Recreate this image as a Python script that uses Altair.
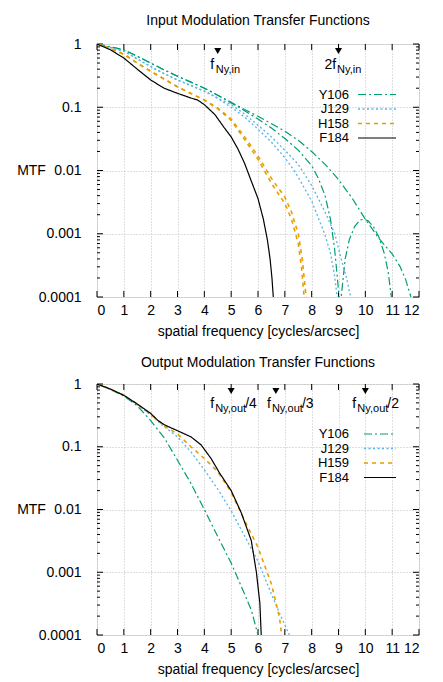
import altair as alt
import pandas as pd

FONT = "Liberation Sans"
FS = 14
LFS = 13

# ---------------- data ----------------
filters_in = ["Y106", "J129", "H158", "F184"]
filters_out = ["Y106", "J129", "H159", "F184"]

# Input MTFs: two curves per filter (a / b)
in_y106_a_x = [0, 0.5, 1, 1.5, 2, 2.5, 3, 3.5, 4, 4.5, 5, 5.5, 6, 6.5, 7, 7.5, 8, 8.5, 9, 9.5, 10, 10.5, 11, 11.3, 11.5, 11.7]
in_y106_a_v = [1, 0.9, 0.81, 0.64, 0.5, 0.39, 0.31, 0.25, 0.2, 0.155, 0.12, 0.092, 0.072, 0.055, 0.042, 0.03, 0.02, 0.0125, 0.0072, 0.0037, 0.0017, 0.00085, 0.00048, 0.0003, 0.00019, 0.0001]
in_y106_b_x = [0, 0.5, 1, 1.5, 2, 2.5, 3, 3.5, 4, 4.5, 5, 5.5, 6, 6.5, 7, 7.5, 8, 8.25, 8.5, 8.7, 8.85, 8.95, 9.02, 9.06, 9.1, 9.25, 9.4, 9.6, 9.8, 9.95, 10.1, 10.3, 10.5, 10.7, 10.85, 10.97]
in_y106_b_v = [1, 0.9, 0.81, 0.64, 0.5, 0.39, 0.31, 0.25, 0.2, 0.155, 0.117, 0.088, 0.065, 0.047, 0.032, 0.021, 0.012, 0.0075, 0.004, 0.0017, 0.0006, 0.00022, 0.0001, 0.00002, 0.0001, 0.0004, 0.0008, 0.0013, 0.00165, 0.0017, 0.0016, 0.0013, 0.0009, 0.0005, 0.00025, 0.0001]

in_j129_a_x = [0, 0.5, 1, 1.5, 2, 2.5, 3, 3.5, 4, 4.5, 5, 5.5, 6, 6.5, 7, 7.5, 8, 8.5, 8.86, 9.1, 9.3, 9.45]
in_j129_a_v = [1, 0.88, 0.77, 0.58, 0.44, 0.34, 0.27, 0.22, 0.18, 0.14, 0.11, 0.078, 0.052, 0.034, 0.021, 0.0125, 0.0058, 0.0022, 0.001, 0.0004, 0.0002, 0.0001]
in_j129_b_x = [0, 0.5, 1, 1.5, 2, 2.5, 3, 3.5, 4, 4.5, 5, 5.5, 6, 6.5, 7, 7.35, 7.5, 8, 8.48, 8.7, 8.85, 8.95]
in_j129_b_v = [1, 0.88, 0.77, 0.58, 0.44, 0.34, 0.27, 0.22, 0.18, 0.138, 0.1, 0.07, 0.045, 0.028, 0.016, 0.01, 0.0078, 0.0033, 0.001, 0.0005, 0.00022, 0.0001]

in_h158_a_x = [0, 0.5, 1, 1.5, 2, 2.5, 3, 3.5, 4, 4.5, 5, 5.5, 6, 6.5, 7, 7.25, 7.5, 7.65, 7.75, 7.8]
in_h158_a_v = [1, 0.85, 0.69, 0.5, 0.37, 0.28, 0.21, 0.165, 0.13, 0.097, 0.065, 0.034, 0.017, 0.0075, 0.0038, 0.0022, 0.001, 0.0004, 0.00015, 0.0001]
in_h158_b_x = [0, 0.5, 1, 1.5, 2, 2.5, 3, 3.5, 4, 4.5, 5, 5.5, 6, 6.5, 7, 7.25, 7.5, 7.62, 7.72]
in_h158_b_v = [1, 0.85, 0.69, 0.5, 0.37, 0.28, 0.21, 0.165, 0.13, 0.095, 0.062, 0.031, 0.015, 0.0063, 0.003, 0.0017, 0.0007, 0.0003, 0.0001]

in_f184_x = [0, 0.5, 1, 1.5, 2, 2.5, 3, 3.5, 3.75, 4, 4.4, 4.75, 5, 5.25, 5.5, 5.75, 6, 6.2, 6.35, 6.45, 6.52, 6.57]
in_f184_v = [1, 0.81, 0.6, 0.4, 0.27, 0.2, 0.166, 0.14, 0.13, 0.11, 0.076, 0.047, 0.034, 0.022, 0.013, 0.0068, 0.0036, 0.0017, 0.0008, 0.0004, 0.0002, 0.0001]

# Output MTFs: one curve per filter
out_y106_x = [0, 0.5, 1, 1.5, 2, 2.5, 3, 3.5, 4, 4.5, 5, 5.5, 5.75, 6.0]
out_y106_v = [1, 0.82, 0.64, 0.45, 0.26, 0.14, 0.061, 0.026, 0.01, 0.0037, 0.0014, 0.00045, 0.00025, 0.0001]
out_j129_x = [0, 0.5, 1, 1.5, 2, 2.5, 3, 3.5, 4, 4.57, 5, 5.5, 6, 6.5, 6.85, 7.17]
out_j129_v = [1, 0.83, 0.66, 0.47, 0.32, 0.21, 0.144, 0.083, 0.043, 0.019, 0.0095, 0.0038, 0.0015, 0.00045, 0.0002, 0.0001]
out_h159_x = [0, 0.5, 1, 1.5, 2, 2.5, 3, 3.5, 4, 4.5, 5, 5.5, 6, 6.5, 6.8, 6.88]
out_h159_v = [1, 0.83, 0.66, 0.48, 0.33, 0.215, 0.16, 0.1, 0.065, 0.04, 0.019, 0.0067, 0.0025, 0.00065, 0.00019, 0.0001]
out_f184_x = [0, 0.5, 1, 1.5, 2, 2.26, 2.5, 3, 3.5, 3.88, 4.25, 4.57, 5, 5.37, 5.75, 5.94, 6.07, 6.12]
out_f184_v = [1, 0.83, 0.66, 0.48, 0.34, 0.265, 0.225, 0.18, 0.144, 0.107, 0.065, 0.038, 0.02, 0.009, 0.0032, 0.001, 0.00032, 0.0001]

# Nyquist markers
nyq_in_x = [4.5, 9.0]
nyq_in_main = ["f", "2f"]
nyq_in_sub = ["Ny,in", "Ny,in"]
nyq_out_x = [5.0, 20 / 3, 10.0]
nyq_out_sub = ["Ny,out", "Ny,out", "Ny,out"]
nyq_out_tail = ["/4", "/3", "/2"]

x_ticks = list(range(13))
y_ticks = [0.0001, 0.001, 0.01, 0.1, 1]
y_minor = [k * 10 ** e for e in range(-4, 0) for k in range(2, 10)]

# ---------------- styles ----------------
W = 322
H_TOP = 253
H_BOT = 251
STYLE = {
    "Y106": dict(color="#009e73", strokeDash=[8, 3, 2, 3], strokeWidth=1.2),
    "J129": dict(color="#56b4e9", strokeDash=[2, 2.5], strokeWidth=1.3),
    "H158": dict(color="#e69f00", strokeDash=[4, 4], strokeWidth=1.6),
    "H159": dict(color="#e69f00", strokeDash=[4, 4], strokeWidth=1.6),
    "F184": dict(color="#000000", strokeDash=[1, 0], strokeWidth=1.2),
}


def frame(curves):
    rows = []
    for filt, cid, xs, vs in curves:
        for xv, vv in zip(xs, vs):
            rows.append({"filter": filt, "curve": cid, "x": xv, "mtf": vv})
    return pd.DataFrame(rows)


df_in = frame([
    ("Y106", "Y106a", in_y106_a_x, in_y106_a_v),
    ("Y106", "Y106b", in_y106_b_x, in_y106_b_v),
    ("J129", "J129a", in_j129_a_x, in_j129_a_v),
    ("J129", "J129b", in_j129_b_x, in_j129_b_v),
    ("H158", "H158a", in_h158_a_x, in_h158_a_v),
    ("H158", "H158b", in_h158_b_x, in_h158_b_v),
    ("F184", "F184", in_f184_x, in_f184_v),
])
df_out = frame([
    ("Y106", "Y106", out_y106_x, out_y106_v),
    ("J129", "J129", out_j129_x, out_j129_v),
    ("H159", "H159", out_h159_x, out_h159_v),
    ("F184", "F184", out_f184_x, out_f184_v),
])

x_scale = alt.Scale(domain=[0, 12], nice=False, zero=False)
y_scale = alt.Scale(type="log", domain=[0.0001, 1], nice=False)


def xenc(field="x"):
    return alt.X(f"{field}:Q", scale=x_scale, axis=alt.Axis(
        values=x_ticks, title="spatial frequency [cycles/arcsec]", grid=True,
        gridDash=[1, 2], gridColor="#bdbdbd", ticks=False, domain=False,
        labelFontSize=FS, titleFontSize=FS, labelFont=FONT, titleFont=FONT,
        titleFontWeight="normal", labelColor="black", titleColor="black",
        labelPadding=6, titlePadding=7))


def yenc(h, field="mtf"):
    return alt.Y(f"{field}:Q", scale=y_scale, axis=alt.Axis(
        values=y_ticks, format="~g", title="MTF", grid=True,
        gridDash=[1, 2], gridColor="#bdbdbd", ticks=False, domain=False,
        labelFontSize=FS, titleFontSize=FS, labelFont=FONT, titleFont=FONT,
        titleFontWeight="normal", labelColor="black", titleColor="black",
        labelPadding=16, titleAngle=0, titleX=-66, titleY=h / 2,
        titleAlign="center", titleBaseline="middle"))


def panel(df, filters, h, title, legend_rows, legend_line_x, annotations, toff):
    layers = []
    # inward tick marks (gnuplot-like frame ticks)
    ymaj = pd.DataFrame({"v": y_ticks})
    ymin = pd.DataFrame({"v": y_minor})
    xmaj = pd.DataFrame({"t": x_ticks})
    for data, length in ((ymaj, 6), (ymin, 3)):
        layers.append(alt.Chart(data).mark_rule(color="black", strokeWidth=1).encode(
            y=yenc(h, "v"), x=alt.value(0), x2=alt.value(length)))
        layers.append(alt.Chart(data).mark_rule(color="black", strokeWidth=1).encode(
            y=yenc(h, "v"), x=alt.value(W - length), x2=alt.value(W)))
    layers.append(alt.Chart(xmaj).mark_rule(color="black", strokeWidth=1).encode(
        x=xenc("t"), y=alt.value(h - 6), y2=alt.value(h)))
    layers.append(alt.Chart(xmaj).mark_rule(color="black", strokeWidth=1).encode(
        x=xenc("t"), y=alt.value(0), y2=alt.value(6)))

    # curves
    for f in filters:
        st = STYLE[f]
        layers.append(alt.Chart(df[df["filter"] == f]).mark_line(
            clip=True, color=st["color"], strokeDash=st["strokeDash"],
            strokeWidth=st["strokeWidth"]).encode(
            x=xenc(), y=yenc(h), detail="curve:N"))

    # legend (label on the left, line sample on the right)
    for i, f in enumerate(filters):
        st = STYLE[f]
        ly = legend_rows[i]
        ldf = pd.DataFrame({"name": [f]})
        layers.append(alt.Chart(ldf).mark_text(
            align="right", baseline="middle", fontSize=LFS, font=FONT, color="black").encode(
            x=alt.value(252), y=alt.value(ly), text="name:N"))
        layers.append(alt.Chart(ldf).mark_rule(
            color=st["color"], strokeDash=st["strokeDash"],
            strokeWidth=st["strokeWidth"]).encode(
            x=alt.value(legend_line_x[0]), x2=alt.value(legend_line_x[1]), y=alt.value(ly)))

    # Nyquist annotations
    for xv, pieces in annotations:
        adf = pd.DataFrame({"x": [xv]})
        layers.append(alt.Chart(adf).mark_point(
            shape="triangle-down", filled=True, size=50, color="black", opacity=1).encode(
            x=xenc(), y=alt.value(7)))
        for txt, dx, yb, fs in pieces:
            layers.append(alt.Chart(adf).mark_text(
                align="left", baseline="alphabetic", dx=dx, fontSize=fs, font=FONT,
                color="black").encode(x=xenc(), y=alt.value(yb), text=alt.value(txt)))

    return alt.layer(*layers).properties(
        width=W, height=h,
        title=alt.TitleParams(title, fontSize=FS, font=FONT, fontWeight="normal",
                              color="black", anchor="middle", frame="group", offset=toff))


ann_in = [
    (nyq_in_x[0], [(nyq_in_main[0], -7.6, 25, FS), (nyq_in_sub[0], -2, 29, 11)]),
    (nyq_in_x[1], [(nyq_in_main[1], -14, 25, FS), (nyq_in_sub[1], -1.5, 29, 11)]),
]
ann_out = [
    (nyq_out_x[0], [("f", -21, 24, FS), (nyq_out_sub[0], -16, 28, 11), (nyq_out_tail[0], 14, 24, FS)]),
    (nyq_out_x[1], [("f", -9, 24, FS), (nyq_out_sub[1], -4, 28, 11), (nyq_out_tail[1], 26, 24, FS)]),
    (nyq_out_x[2], [("f", -13, 24, FS), (nyq_out_sub[2], -8, 28, 11), (nyq_out_tail[2], 22, 24, FS)]),
]

top = panel(df_in, filters_in, H_TOP, "Input Modulation Transfer Functions",
            [50.5, 65, 79.5, 94], (261, 299), ann_in, 9)
bot = panel(df_out, filters_out, H_BOT, "Output Modulation Transfer Functions",
            [50, 64.5, 79, 93.5], (267, 299), ann_out, 7)

chart = alt.vconcat(top, bot, spacing=16).properties(
    padding={"left": 8, "top": 5, "right": 5, "bottom": 5}
).configure_view(stroke="black", strokeWidth=1).configure(background="white")

chart.save("out.html", embed_options={"renderer": "svg", "actions": False})
